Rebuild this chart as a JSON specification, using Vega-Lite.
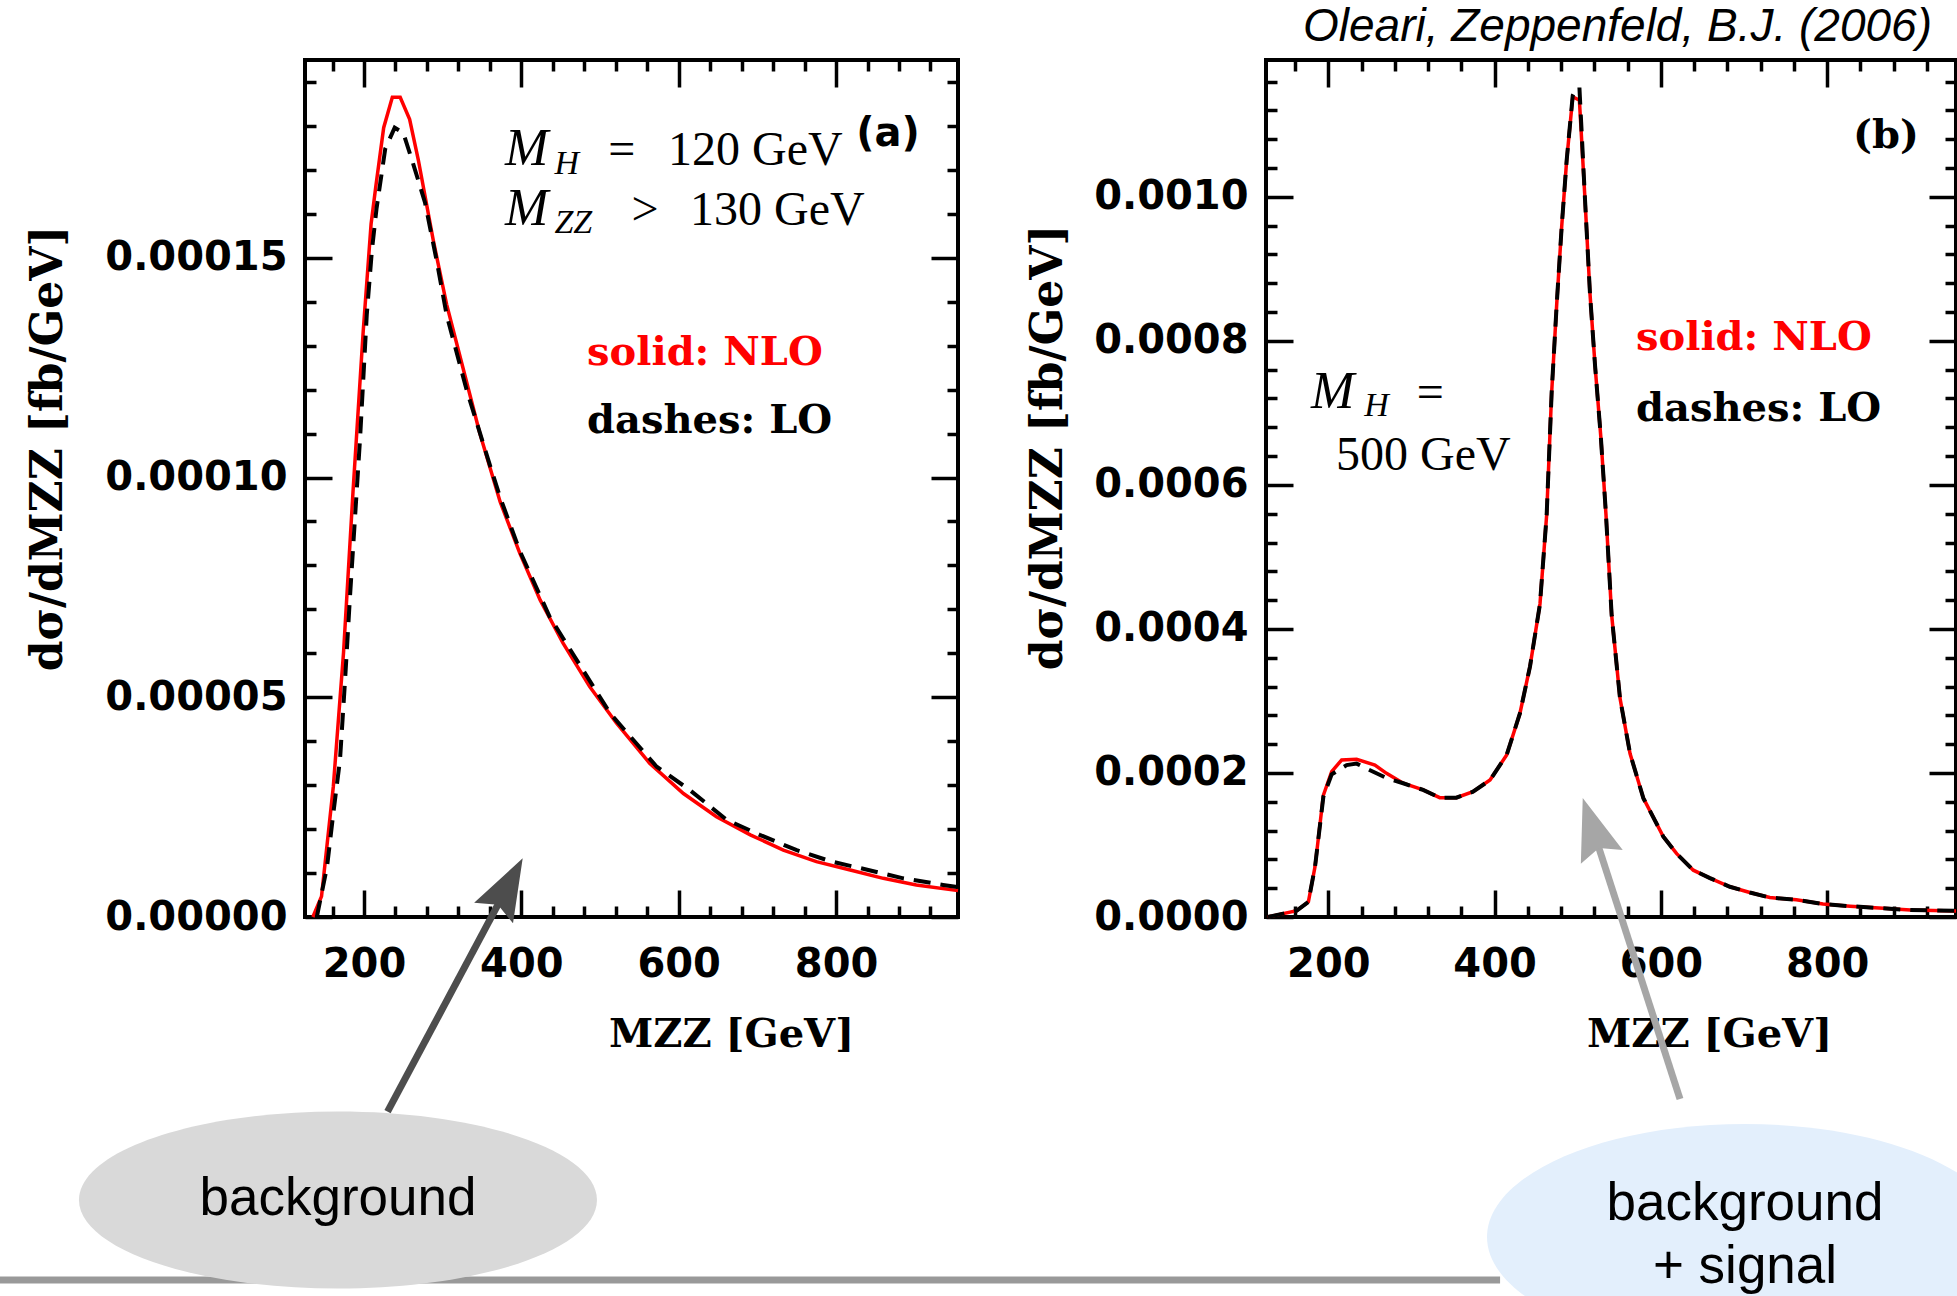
{
  "$schema": "https://vega.github.io/schema/vega-lite/v6.json",
  "autosize": {"type": "none"},
  "padding": {"left": 305, "top": 60, "right": 1652, "bottom": 1236},
  "background": "white",
  "spacing": 308,
  "bounds": "flush",
  "datasets": {
    "nloA": [{"m":135,"v":0},{"m":146,"v":0.0000047},{"m":161,"v":0.0000297},{"m":174,"v":0.0000602},{"m":186,"v":0.0000967},{"m":199,"v":0.0001333},{"m":209,"v":0.0001577},{"m":215,"v":0.0001662},{"m":225,"v":0.0001796},{"m":236,"v":0.0001865},{"m":246,"v":0.0001865},{"m":258,"v":0.0001815},{"m":269,"v":0.0001723},{"m":288,"v":0.000154},{"m":305,"v":0.0001394},{"m":326,"v":0.0001248},{"m":347,"v":0.0001102},{"m":373,"v":0.0000945},{"m":398,"v":0.0000828},{"m":424,"v":0.0000721},{"m":453,"v":0.0000623},{"m":487,"v":0.0000524},{"m":521,"v":0.0000441},{"m":563,"v":0.000035},{"m":606,"v":0.0000281},{"m":648,"v":0.0000228},{"m":691,"v":0.0000187},{"m":733,"v":0.0000152},{"m":775,"v":0.0000126},{"m":818,"v":0.0000107},{"m":860,"v":0.0000088},{"m":902,"v":0.0000073},{"m":955,"v":0.000006}],
    "loA": [{"m":140,"v":0},{"m":153,"v":0.0000114},{"m":161,"v":0.0000236},{"m":169.5,"v":0.0000358},{"m":176,"v":0.0000541},{"m":182,"v":0.0000724},{"m":188.5,"v":0.0000907},{"m":195,"v":0.0001089},{"m":203.5,"v":0.000137},{"m":210,"v":0.0001516},{"m":216,"v":0.0001613},{"m":227,"v":0.0001748},{"m":239,"v":0.0001796},{"m":250,"v":0.0001784},{"m":263,"v":0.0001711},{"m":277.5,"v":0.0001626},{"m":292.5,"v":0.0001492},{"m":305,"v":0.000137},{"m":330.5,"v":0.0001199},{"m":360,"v":0.0001028},{"m":373,"v":0.0000955},{"m":398,"v":0.0000833},{"m":436,"v":0.0000683},{"m":513,"v":0.0000463},{"m":572,"v":0.0000342},{"m":614,"v":0.0000289},{"m":661,"v":0.0000221},{"m":703,"v":0.0000187},{"m":750,"v":0.0000152},{"m":794.5,"v":0.0000126},{"m":841,"v":0.0000107},{"m":885.5,"v":0.0000088},{"m":936,"v":0.0000073},{"m":955,"v":0.0000068}],
    "nloB": [{"m":127,"v":0},{"m":162,"v":0.0000088},{"m":176,"v":0.000021},{"m":184,"v":0.00007},{"m":194,"v":0.000169},{"m":204,"v":0.000202},{"m":216,"v":0.000218},{"m":234,"v":0.000219},{"m":256,"v":0.000211},{"m":270,"v":0.0001995},{"m":290,"v":0.0001857},{"m":314,"v":0.0001764},{"m":334,"v":0.0001657},{"m":354,"v":0.0001657},{"m":374,"v":0.000174},{"m":394.5,"v":0.0001902},{"m":414.5,"v":0.000225},{"m":430.5,"v":0.000283},{"m":442.6,"v":0.000348},{"m":454.6,"v":0.000435},{"m":462.6,"v":0.000558},{"m":468.6,"v":0.000728},{"m":474.7,"v":0.000851},{"m":480.7,"v":0.000959},{"m":486.7,"v":0.001051},{"m":494,"v":0.001139},{"m":502,"v":0.001134},{"m":508.7,"v":0.000997},{"m":514.7,"v":0.000866},{"m":520.8,"v":0.000766},{"m":527.8,"v":0.000666},{"m":534,"v":0.000558},{"m":540.8,"v":0.000419},{"m":550.8,"v":0.000304},{"m":562.9,"v":0.000227},{"m":578.9,"v":0.000165},{"m":603,"v":0.0001115},{"m":619,"v":0.000088},{"m":639,"v":0.000065},{"m":659,"v":0.000054},{"m":683,"v":0.000042},{"m":707,"v":0.000034},{"m":731,"v":0.000027},{"m":763,"v":0.000024},{"m":795,"v":0.000018},{"m":827.5,"v":0.000015},{"m":867.5,"v":0.000012},{"m":900,"v":0.0000097},{"m":955,"v":0.0000085}],
    "loB": [{"m":127,"v":0},{"m":162,"v":0.0000088},{"m":176,"v":0.000021},{"m":184,"v":0.00007},{"m":194,"v":0.000167},{"m":204,"v":0.000198},{"m":222,"v":0.000211},{"m":234,"v":0.000213},{"m":246,"v":0.000206},{"m":270,"v":0.000193},{"m":290,"v":0.0001857},{"m":314,"v":0.0001764},{"m":334,"v":0.0001657},{"m":354,"v":0.0001657},{"m":374,"v":0.000174},{"m":394.5,"v":0.0001902},{"m":414.5,"v":0.000225},{"m":430.5,"v":0.000283},{"m":442.6,"v":0.000348},{"m":454.6,"v":0.000435},{"m":462.6,"v":0.000558},{"m":468.6,"v":0.000728},{"m":474.7,"v":0.000851},{"m":480.7,"v":0.000959},{"m":486.7,"v":0.001051},{"m":494,"v":0.001141},{"m":498,"v":0.00115},{"m":502,"v":0.001152},{"m":508.7,"v":0.000997},{"m":514.7,"v":0.000866},{"m":520.8,"v":0.000766},{"m":527.8,"v":0.000666},{"m":534,"v":0.000558},{"m":540.8,"v":0.000419},{"m":550.8,"v":0.000304},{"m":562.9,"v":0.000227},{"m":578.9,"v":0.000165},{"m":603,"v":0.0001115},{"m":619,"v":0.000088},{"m":639,"v":0.000065},{"m":659,"v":0.000054},{"m":683,"v":0.000042},{"m":707,"v":0.000034},{"m":731,"v":0.000027},{"m":763,"v":0.000024},{"m":795,"v":0.000018},{"m":827.5,"v":0.000015},{"m":867.5,"v":0.000012},{"m":900,"v":0.0000097},{"m":955,"v":0.0000085}]
  },
  "hconcat": [
    {
      "width": 653,
      "height": 857,
      "resolve": {"axis": {"x": "independent", "y": "independent"}},
      "layer": [
        {
          "data": {"name": "nloA"},
          "mark": {"type": "line", "color": "#ff0000", "strokeWidth": 3.5},
          "encoding": {
            "x": {"field": "m", "type": "quantitative", "scale": {"domain": [125, 955], "nice": false, "zero": false},
              "axis": {"orient": "bottom", "values": [160,200,240,280,320,360,400,440,480,520,560,600,640,680,720,760,800,840,880,920], "domain": false, "grid": false, "tickColor": "#000", "tickWidth": 3.5,
                "tickSize": {"condition": {"test": "datum.value % 200 === 0", "value": -27}, "value": -11},
                "labelExpr": "datum.value % 200 === 0 ? datum.label : ''",
                "labelFont": "DejaVu Sans", "labelFontWeight": "bold", "labelFontSize": 40, "labelColor": "#000", "labelBaseline": "top", "labelPadding": 54, "labelOverlap": false, "labelFlush": false, "labelBound": false, "labelLimit": 0,
                "title": "MZZ [GeV]", "titleFont": "DejaVu Serif", "titleFontWeight": "bold", "titleFontSize": 40, "titleColor": "#000", "titleX": 426, "titleY": 129, "titleAlign": "center", "titleBaseline": "alphabetic", "titleLimit": 0}},
            "y": {"field": "v", "type": "quantitative", "scale": {"domain": [0, 0.000195], "nice": false, "zero": false},
              "axis": {"orient": "left", "values": [0,0.00001,0.00002,0.00003,0.00004,0.00005,0.00006,0.00007,0.00008,0.00009,0.0001,0.00011,0.00012,0.00013,0.00014,0.00015,0.00016,0.00017,0.00018,0.00019], "format": ".5f", "domain": false, "grid": false, "tickColor": "#000", "tickWidth": 3.5,
                "tickSize": {"condition": {"test": "abs(datum.value/0.00005 - round(datum.value/0.00005)) < 0.01", "value": -27}, "value": -11},
                "labelExpr": "abs(datum.value/0.00005 - round(datum.value/0.00005)) < 0.01 ? datum.label : ''",
                "labelFont": "DejaVu Sans", "labelFontWeight": "bold", "labelFontSize": 40, "labelColor": "#000", "labelPadding": 45, "labelOverlap": false, "labelFlush": false, "labelBound": false, "labelLimit": 0,
                "title": "dσ/dMZZ [fb/GeV]", "titleFont": "DejaVu Serif", "titleFontWeight": "bold", "titleFontSize": 44, "titleColor": "#000", "titleX": -257, "titleY": 388, "titleAngle": -90, "titleAlign": "center", "titleBaseline": "middle", "titleLimit": 0}}
          }
        },
        {
          "data": {"name": "loA"},
          "mark": {"type": "line", "color": "#000000", "strokeWidth": 4, "strokeDash": [17, 10]},
          "encoding": {
            "x": {"field": "m", "type": "quantitative", "scale": {"domain": [125, 955], "nice": false, "zero": false},
              "axis": {"orient": "top", "values": [160,200,240,280,320,360,400,440,480,520,560,600,640,680,720,760,800,840,880,920], "domain": false, "grid": false, "labels": false, "title": null, "tickColor": "#000", "tickWidth": 3.5,
                "tickSize": {"condition": {"test": "datum.value % 200 === 0", "value": -27}, "value": -11}}},
            "y": {"field": "v", "type": "quantitative", "scale": {"domain": [0, 0.000195], "nice": false, "zero": false},
              "axis": {"orient": "right", "values": [0,0.00001,0.00002,0.00003,0.00004,0.00005,0.00006,0.00007,0.00008,0.00009,0.0001,0.00011,0.00012,0.00013,0.00014,0.00015,0.00016,0.00017,0.00018,0.00019], "domain": false, "grid": false, "labels": false, "title": null, "tickColor": "#000", "tickWidth": 3.5,
                "tickSize": {"condition": {"test": "abs(datum.value/0.00005 - round(datum.value/0.00005)) < 0.01", "value": -27}, "value": -11}}}
          }
        },
        {
          "data": {"values": [{"x": -262.7, "x2": 1644, "y": -0.0000826}]},
          "mark": {"type": "rule", "color": "#999999", "strokeWidth": 7, "clip": false},
          "encoding": {
            "x": {"field": "x", "type": "quantitative", "scale": {"domain": [125, 955], "nice": false, "zero": false}, "axis": null},
            "x2": {"field": "x2"},
            "y": {"field": "y", "type": "quantitative", "scale": {"domain": [0, 0.000195], "nice": false, "zero": false}, "axis": null}
          }
        },
        {
          "data": {"values": [{"x": 166.9, "y": -0.00006439}]},
          "mark": {"type": "point", "shape": "M -1 0 C -1 -0.1887 -0.5523 -0.3417 0 -0.3417 C 0.5523 -0.3417 1 -0.1887 1 0 C 1 0.1887 0.5523 0.3417 0 0.3417 C -0.5523 0.3417 -1 0.1887 -1 0 Z", "filled": true, "color": "#d9d9d9", "opacity": 1, "size": 268324, "strokeWidth": 0, "clip": false},
          "encoding": {
            "x": {"field": "x", "type": "quantitative", "scale": {"domain": [125, 955], "nice": false, "zero": false}, "axis": null},
            "y": {"field": "y", "type": "quantitative", "scale": {"domain": [0, 0.000195], "nice": false, "zero": false}, "axis": null}
          }
        },
        {
          "data": {"values": [{"x": 166.9, "y": -0.00006781, "t": "background"}]},
          "mark": {"type": "text", "font": "Liberation Sans", "fontSize": 53, "align": "center", "baseline": "alphabetic", "color": "#000000", "clip": false},
          "encoding": {
            "x": {"field": "x", "type": "quantitative", "scale": {"domain": [125, 955], "nice": false, "zero": false}, "axis": null},
            "y": {"field": "y", "type": "quantitative", "scale": {"domain": [0, 0.000195], "nice": false, "zero": false}, "axis": null},
            "text": {"field": "t"}
          }
        },
        {
          "data": {"values": [{"x": 229.9, "y": -0.0000443, "x2": 371.8, "y2": 0.00000332}]},
          "mark": {"type": "rule", "color": "#4d4d4d", "strokeWidth": 7, "clip": false},
          "encoding": {
            "x": {"field": "x", "type": "quantitative", "scale": {"domain": [125, 955], "nice": false, "zero": false}, "axis": null},
            "x2": {"field": "x2"},
            "y": {"field": "y", "type": "quantitative", "scale": {"domain": [0, 0.000195], "nice": false, "zero": false}, "axis": null},
            "y2": {"field": "y2"}
          }
        },
        {
          "data": {"values": [{"x": 401.7, "y": 0.00001336}]},
          "mark": {"type": "point", "shape": "M 0 0 L -0.355 1 L 0 0.85 L 0.355 1 Z", "angle": 28, "filled": true, "color": "#4d4d4d", "opacity": 1, "size": 15376, "strokeWidth": 0, "clip": false},
          "encoding": {
            "x": {"field": "x", "type": "quantitative", "scale": {"domain": [125, 955], "nice": false, "zero": false}, "axis": null},
            "y": {"field": "y", "type": "quantitative", "scale": {"domain": [0, 0.000195], "nice": false, "zero": false}, "axis": null}
          }
        },
        {
          "data": {"values": [{"x": 379.2, "y": 0.00017111, "t": "M"}, {"x": 379.2, "y": 0.00015746, "t": "M"}]},
          "mark": {"type": "text", "font": "Liberation Serif", "fontStyle": "italic", "fontSize": 52, "align": "left", "baseline": "alphabetic", "color": "#000000"},
          "encoding": {
            "x": {"field": "x", "type": "quantitative", "scale": {"domain": [125, 955], "nice": false, "zero": false}, "axis": null},
            "y": {"field": "y", "type": "quantitative", "scale": {"domain": [0, 0.000195], "nice": false, "zero": false}, "axis": null},
            "text": {"field": "t"}
          }
        },
        {
          "data": {"values": [{"x": 442.0, "y": 0.00016906, "t": "H"}, {"x": 442.0, "y": 0.00015564, "t": "ZZ"}]},
          "mark": {"type": "text", "font": "Liberation Serif", "fontStyle": "italic", "fontSize": 34, "align": "left", "baseline": "alphabetic", "color": "#000000"},
          "encoding": {
            "x": {"field": "x", "type": "quantitative", "scale": {"domain": [125, 955], "nice": false, "zero": false}, "axis": null},
            "y": {"field": "y", "type": "quantitative", "scale": {"domain": [0, 0.000195], "nice": false, "zero": false}, "axis": null},
            "text": {"field": "t"}
          }
        },
        {
          "data": {"values": [{"x": 510.3, "y": 0.00017111, "t": "="}, {"x": 586.4, "y": 0.00017111, "t": "120 GeV"}, {"x": 540.1, "y": 0.00015746, "t": ">"}, {"x": 614.4, "y": 0.00015746, "t": "130 GeV"}]},
          "mark": {"type": "text", "font": "Liberation Serif", "fontSize": 48, "align": "left", "baseline": "alphabetic", "color": "#000000"},
          "encoding": {
            "x": {"field": "x", "type": "quantitative", "scale": {"domain": [125, 955], "nice": false, "zero": false}, "axis": null},
            "y": {"field": "y", "type": "quantitative", "scale": {"domain": [0, 0.000195], "nice": false, "zero": false}, "axis": null},
            "text": {"field": "t"}
          }
        },
        {
          "data": {"values": [{"x": 866, "y": 0.00017816, "t": "(a)"}]},
          "mark": {"type": "text", "font": "DejaVu Sans", "fontWeight": "bold", "fontSize": 40, "align": "center", "baseline": "middle", "color": "#000000"},
          "encoding": {
            "x": {"field": "x", "type": "quantitative", "scale": {"domain": [125, 955], "nice": false, "zero": false}, "axis": null},
            "y": {"field": "y", "type": "quantitative", "scale": {"domain": [0, 0.000195], "nice": false, "zero": false}, "axis": null},
            "text": {"field": "t"}
          }
        },
        {
          "data": {"values": [{"x": 483.5, "y": 0.0001256, "t": "solid: NLO"}]},
          "mark": {"type": "text", "font": "DejaVu Serif", "fontWeight": "bold", "fontSize": 40, "align": "left", "baseline": "alphabetic", "color": "#ff0000"},
          "encoding": {
            "x": {"field": "x", "type": "quantitative", "scale": {"domain": [125, 955], "nice": false, "zero": false}, "axis": null},
            "y": {"field": "y", "type": "quantitative", "scale": {"domain": [0, 0.000195], "nice": false, "zero": false}, "axis": null},
            "text": {"field": "t"}
          }
        },
        {
          "data": {"values": [{"x": 483.5, "y": 0.00011013, "t": "dashes: LO"}]},
          "mark": {"type": "text", "font": "DejaVu Serif", "fontWeight": "bold", "fontSize": 40, "align": "left", "baseline": "alphabetic", "color": "#000000"},
          "encoding": {
            "x": {"field": "x", "type": "quantitative", "scale": {"domain": [125, 955], "nice": false, "zero": false}, "axis": null},
            "y": {"field": "y", "type": "quantitative", "scale": {"domain": [0, 0.000195], "nice": false, "zero": false}, "axis": null},
            "text": {"field": "t"}
          }
        }
      ]
    },
    {
      "width": 690,
      "height": 857,
      "title": {"text": "Oleari, Zeppenfeld, B.J. (2006)", "anchor": "end", "frame": "group", "font": "Liberation Sans", "fontStyle": "italic", "fontWeight": "normal", "fontSize": 46, "color": "#000000", "baseline": "alphabetic", "offset": 17, "dx": -24, "dy": 46},
      "resolve": {"axis": {"x": "independent", "y": "independent"}},
      "layer": [
        {
          "data": {"name": "nloB"},
          "mark": {"type": "line", "color": "#ff0000", "strokeWidth": 3.5},
          "encoding": {
            "x": {"field": "m", "type": "quantitative", "scale": {"domain": [125, 955], "nice": false, "zero": false},
              "axis": {"orient": "bottom", "values": [160,200,240,280,320,360,400,440,480,520,560,600,640,680,720,760,800,840,880,920], "domain": false, "grid": false, "tickColor": "#000", "tickWidth": 3.5,
                "tickSize": {"condition": {"test": "datum.value % 200 === 0", "value": -27}, "value": -11},
                "labelExpr": "datum.value % 200 === 0 ? datum.label : ''",
                "labelFont": "DejaVu Sans", "labelFontWeight": "bold", "labelFontSize": 40, "labelColor": "#000", "labelBaseline": "top", "labelPadding": 54, "labelOverlap": false, "labelFlush": false, "labelBound": false, "labelLimit": 0,
                "title": "MZZ [GeV]", "titleFont": "DejaVu Serif", "titleFontWeight": "bold", "titleFontSize": 40, "titleColor": "#000", "titleX": 443, "titleY": 129, "titleAlign": "center", "titleBaseline": "alphabetic", "titleLimit": 0}},
            "y": {"field": "v", "type": "quantitative", "scale": {"domain": [0, 0.00119], "nice": false, "zero": false},
              "axis": {"orient": "left", "values": [0,0.00004,0.00008,0.00012,0.00016,0.0002,0.00024,0.00028,0.00032,0.00036,0.0004,0.00044,0.00048,0.00052,0.00056,0.0006,0.00064,0.00068,0.00072,0.00076,0.0008,0.00084,0.00088,0.00092,0.00096,0.001,0.00104,0.00108,0.00112,0.00116], "format": ".4f", "domain": false, "grid": false, "tickColor": "#000", "tickWidth": 3.5,
                "tickSize": {"condition": {"test": "abs(datum.value/0.0002 - round(datum.value/0.0002)) < 0.01", "value": -27}, "value": -11},
                "labelExpr": "abs(datum.value/0.0002 - round(datum.value/0.0002)) < 0.01 ? datum.label : ''",
                "labelFont": "DejaVu Sans", "labelFontWeight": "bold", "labelFontSize": 40, "labelColor": "#000", "labelPadding": 45, "labelOverlap": false, "labelFlush": false, "labelBound": false, "labelLimit": 0,
                "title": "dσ/dMZZ [fb/GeV]", "titleFont": "DejaVu Serif", "titleFontWeight": "bold", "titleFontSize": 44, "titleColor": "#000", "titleX": -218, "titleY": 387, "titleAngle": -90, "titleAlign": "center", "titleBaseline": "middle", "titleLimit": 0}}
          }
        },
        {
          "data": {"name": "loB"},
          "mark": {"type": "line", "color": "#000000", "strokeWidth": 4, "strokeDash": [17, 10]},
          "encoding": {
            "x": {"field": "m", "type": "quantitative", "scale": {"domain": [125, 955], "nice": false, "zero": false},
              "axis": {"orient": "top", "values": [160,200,240,280,320,360,400,440,480,520,560,600,640,680,720,760,800,840,880,920], "domain": false, "grid": false, "labels": false, "title": null, "tickColor": "#000", "tickWidth": 3.5,
                "tickSize": {"condition": {"test": "datum.value % 200 === 0", "value": -27}, "value": -11}}},
            "y": {"field": "v", "type": "quantitative", "scale": {"domain": [0, 0.00119], "nice": false, "zero": false},
              "axis": {"orient": "right", "values": [0,0.00004,0.00008,0.00012,0.00016,0.0002,0.00024,0.00028,0.00032,0.00036,0.0004,0.00044,0.00048,0.00052,0.00056,0.0006,0.00064,0.00068,0.00072,0.00076,0.0008,0.00084,0.00088,0.00092,0.00096,0.001,0.00104,0.00108,0.00112,0.00116], "domain": false, "grid": false, "labels": false, "title": null, "tickColor": "#000", "tickWidth": 3.5,
                "tickSize": {"condition": {"test": "abs(datum.value/0.0002 - round(datum.value/0.0002)) < 0.01", "value": -27}, "value": -11}}}
          }
        },
        {
          "data": {"values": [{"x": 701.2, "y": -0.00044435}]},
          "mark": {"type": "point", "shape": "M -1 0 C -1 -0.2419 -0.5523 -0.438 0 -0.438 C 0.5523 -0.438 1 -0.2419 1 0 C 1 0.2419 0.5523 0.438 0 0.438 C -0.5523 0.438 -1 0.2419 -1 0 Z", "filled": true, "color": "#e3effc", "opacity": 1, "size": 266256, "strokeWidth": 0, "clip": false},
          "encoding": {
            "x": {"field": "x", "type": "quantitative", "scale": {"domain": [125, 955], "nice": false, "zero": false}, "axis": null},
            "y": {"field": "y", "type": "quantitative", "scale": {"domain": [0, 0.00119], "nice": false, "zero": false}, "axis": null}
          }
        },
        {
          "data": {"values": [{"x": 701.2, "y": -0.0004207, "t": "background"}, {"x": 701.2, "y": -0.0005082, "t": "+ signal"}]},
          "mark": {"type": "text", "font": "Liberation Sans", "fontSize": 53, "align": "center", "baseline": "alphabetic", "color": "#000000", "clip": false},
          "encoding": {
            "x": {"field": "x", "type": "quantitative", "scale": {"domain": [125, 955], "nice": false, "zero": false}, "axis": null},
            "y": {"field": "y", "type": "quantitative", "scale": {"domain": [0, 0.00119], "nice": false, "zero": false}, "axis": null},
            "text": {"field": "t"}
          }
        },
        {
          "data": {"values": [{"x": 623.0, "y": -0.0002527, "x2": 524.5, "y2": 0.0000993}]},
          "mark": {"type": "rule", "color": "#a6a6a6", "strokeWidth": 7, "clip": false},
          "encoding": {
            "x": {"field": "x", "type": "quantitative", "scale": {"domain": [125, 955], "nice": false, "zero": false}, "axis": null},
            "x2": {"field": "x2"},
            "y": {"field": "y", "type": "quantitative", "scale": {"domain": [0, 0.00119], "nice": false, "zero": false}, "axis": null},
            "y2": {"field": "y2"}
          }
        },
        {
          "data": {"values": [{"x": 506.0, "y": 0.0001654}]},
          "mark": {"type": "point", "shape": "M 0 0 L -0.355 1 L 0 0.85 L 0.355 1 Z", "angle": -17.9, "filled": true, "color": "#a6a6a6", "opacity": 1, "size": 15376, "strokeWidth": 0, "clip": false},
          "encoding": {
            "x": {"field": "x", "type": "quantitative", "scale": {"domain": [125, 955], "nice": false, "zero": false}, "axis": null},
            "y": {"field": "y", "type": "quantitative", "scale": {"domain": [0, 0.00119], "nice": false, "zero": false}, "axis": null}
          }
        },
        {
          "data": {"values": [{"x": 179.1, "y": 0.0007068, "t": "M"}]},
          "mark": {"type": "text", "font": "Liberation Serif", "fontStyle": "italic", "fontSize": 52, "align": "left", "baseline": "alphabetic", "color": "#000000"},
          "encoding": {
            "x": {"field": "x", "type": "quantitative", "scale": {"domain": [125, 955], "nice": false, "zero": false}, "axis": null},
            "y": {"field": "y", "type": "quantitative", "scale": {"domain": [0, 0.00119], "nice": false, "zero": false}, "axis": null},
            "text": {"field": "t"}
          }
        },
        {
          "data": {"values": [{"x": 243.3, "y": 0.0006957, "t": "H"}]},
          "mark": {"type": "text", "font": "Liberation Serif", "fontStyle": "italic", "fontSize": 34, "align": "left", "baseline": "alphabetic", "color": "#000000"},
          "encoding": {
            "x": {"field": "x", "type": "quantitative", "scale": {"domain": [125, 955], "nice": false, "zero": false}, "axis": null},
            "y": {"field": "y", "type": "quantitative", "scale": {"domain": [0, 0.00119], "nice": false, "zero": false}, "axis": null},
            "text": {"field": "t"}
          }
        },
        {
          "data": {"values": [{"x": 306.2, "y": 0.0007068, "t": "="}, {"x": 209.2, "y": 0.0006207, "t": "500 GeV"}]},
          "mark": {"type": "text", "font": "Liberation Serif", "fontSize": 48, "align": "left", "baseline": "alphabetic", "color": "#000000"},
          "encoding": {
            "x": {"field": "x", "type": "quantitative", "scale": {"domain": [125, 955], "nice": false, "zero": false}, "axis": null},
            "y": {"field": "y", "type": "quantitative", "scale": {"domain": [0, 0.00119], "nice": false, "zero": false}, "axis": null},
            "text": {"field": "t"}
          }
        },
        {
          "data": {"values": [{"x": 870.8, "y": 0.0010845, "t": "(b)"}]},
          "mark": {"type": "text", "font": "DejaVu Serif", "fontWeight": "bold", "fontSize": 40, "align": "center", "baseline": "middle", "color": "#000000"},
          "encoding": {
            "x": {"field": "x", "type": "quantitative", "scale": {"domain": [125, 955], "nice": false, "zero": false}, "axis": null},
            "y": {"field": "y", "type": "quantitative", "scale": {"domain": [0, 0.00119], "nice": false, "zero": false}, "axis": null},
            "text": {"field": "t"}
          }
        },
        {
          "data": {"values": [{"x": 570.1, "y": 0.0007873, "t": "solid: NLO"}]},
          "mark": {"type": "text", "font": "DejaVu Serif", "fontWeight": "bold", "fontSize": 40, "align": "left", "baseline": "alphabetic", "color": "#ff0000"},
          "encoding": {
            "x": {"field": "x", "type": "quantitative", "scale": {"domain": [125, 955], "nice": false, "zero": false}, "axis": null},
            "y": {"field": "y", "type": "quantitative", "scale": {"domain": [0, 0.00119], "nice": false, "zero": false}, "axis": null},
            "text": {"field": "t"}
          }
        },
        {
          "data": {"values": [{"x": 570.1, "y": 0.0006888, "t": "dashes: LO"}]},
          "mark": {"type": "text", "font": "DejaVu Serif", "fontWeight": "bold", "fontSize": 40, "align": "left", "baseline": "alphabetic", "color": "#000000"},
          "encoding": {
            "x": {"field": "x", "type": "quantitative", "scale": {"domain": [125, 955], "nice": false, "zero": false}, "axis": null},
            "y": {"field": "y", "type": "quantitative", "scale": {"domain": [0, 0.00119], "nice": false, "zero": false}, "axis": null},
            "text": {"field": "t"}
          }
        }
      ]
    }
  ],
  "config": {
    "view": {"stroke": "#000000", "strokeWidth": 4},
    "axis": {"domain": false, "grid": false}
  }
}
